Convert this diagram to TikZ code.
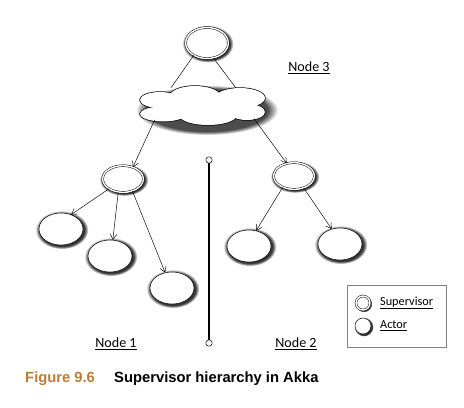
\documentclass[tikz,border=0pt]{standalone}
\usepackage{fontspec}
\setmainfont{Carlito}
\newfontfamily\capfont{Liberation Sans}
\usetikzlibrary{arrows,arrows.meta,shapes.geometric,shadows}
\begin{document}
\begin{tikzpicture}[x=0.03cm,y=-0.03cm]

	\definecolor{capbrown}{RGB}{188,124,56}
	\useasboundingbox (0,0) rectangle (464,407);

	\tikzstyle{edge} = [draw,-]
	\tikzstyle{arc} = [draw,-{Straight Barb[length=4.5pt,width=5.5pt]}]
	\tikzset{glow/.style = {general shadow={shadow scale=1.2, shadow xshift=0.6pt, shadow yshift=-0.6pt, fill=black, opacity=0.8, path fading=circle with fuzzy edge 15 percent}}}
	\tikzset{actor/.style = {shape=ellipse, draw, fill=white, glow, minimum width=1.32cm, minimum height=0.96cm, inner sep=0pt}}
	\tikzset{supervisor/.style = {actor, double, double distance=1.2pt, minimum width=1.22cm, minimum height=0.8cm}}
	\tikzset{lbl/.style = {font=\fontsize{12}{14}\selectfont}}

	% the cloud: union of puffs, with a hidden node for the connectors
	\fill[black, opacity=0.7, path fading=circle with fuzzy edge 15 percent] (207,110) ellipse [x radius=71, y radius=25];
	\foreach \cx/\cy/\rx/\ry in {160/100/20/8, 195/96/25/10, 240/98/25/10, 163/114/23/7.5, 208/116/28/9, 247/112/18/8}
		\draw[line width=1.2pt] (\cx,\cy) ellipse [x radius=\rx, y radius=\ry];
	\foreach \cx/\cy/\rx/\ry in {160/100/20/8, 195/96/25/10, 240/98/25/10, 163/114/23/7.5, 208/116/28/9, 247/112/18/8, 203/106/50/14}
		\fill[white] (\cx,\cy) ellipse [x radius=\rx, y radius=\ry];
	\node[shape=ellipse, minimum width=3.81cm, minimum height=1.26cm, inner sep=0pt] (cloud) at (203,106) {};

	% the tree
	\node[supervisor, minimum width=1.28cm, minimum height=0.93cm] (top) at (207,43) {};
	\node[supervisor] (ls) at (123,179) {};
	\node[supervisor] (rs) at (294,176) {};
	\node[actor] (a1) at (61,229) {};
	\node[actor] (a2) at (110,256) {};
	\node[actor] (a3) at (172,288) {};
	\node[actor] (a4) at (249,246) {};
	\node[actor] (a5) at (340,244) {};

	\draw[edge] (top.223) to (cloud.150);
	\draw[edge] (top.293) to (cloud.29);
	\draw[arc] (cloud.196) to (ls.50);
	\draw[arc] (cloud.346) to (rs.120);
	\draw[arc] (ls.215) to (a1.55);
	\draw[arc] (ls.250) to (a2.80);
	\draw[arc] (ls.308) to (a3.114);
	\draw[arc] (rs.225) to (a4.65);
	\draw[arc] (rs.309) to (a5.119);

	% divider between nodes
	\tikzset{endpt/.style = {shape=circle, draw, fill=white, minimum size=5.5pt, inner sep=0pt}}
	\node[endpt] (d1) at (209,160) {};
	\node[endpt] (d2) at (209,343) {};
	\draw[line width=1.6pt] (d1) to (d2);

	\node[lbl] (n3) at (309,68) {\underline{Node 3}};
	\node[lbl] (n1) at (116,344) {\underline{Node 1}};
	\node[lbl] (n2) at (296,344) {\underline{Node 2}};

	% legend
	\node[draw=gray, minimum width=2.97cm, minimum height=1.86cm] (legend) at (396.5,316) {};
	\node[supervisor, minimum width=0.42cm, minimum height=0.42cm] (ksup) at (363,303) {};
	\node[actor, minimum width=0.48cm, minimum height=0.48cm] (kact) at (363,326) {};
	\node[lbl, font=\fontsize{10.5}{12}\selectfont, anchor=west] (tsup) at (376,303) {\underline{Supervisor}};
	\node[lbl, font=\fontsize{10.5}{12}\selectfont, anchor=west] (tact) at (376,326) {\underline{Actor}};

	% caption
	\node[anchor=west, inner sep=0pt, text=capbrown, font=\capfont\bfseries\fontsize{12.6}{15}\selectfont] (fig) at (25,379) {Figure 9.6};
	\node[anchor=west, inner sep=0pt, font=\capfont\bfseries\fontsize{12.6}{15}\selectfont] (title) at (114,379) {Supervisor hierarchy in Akka};
\end{tikzpicture}
\end{document}
